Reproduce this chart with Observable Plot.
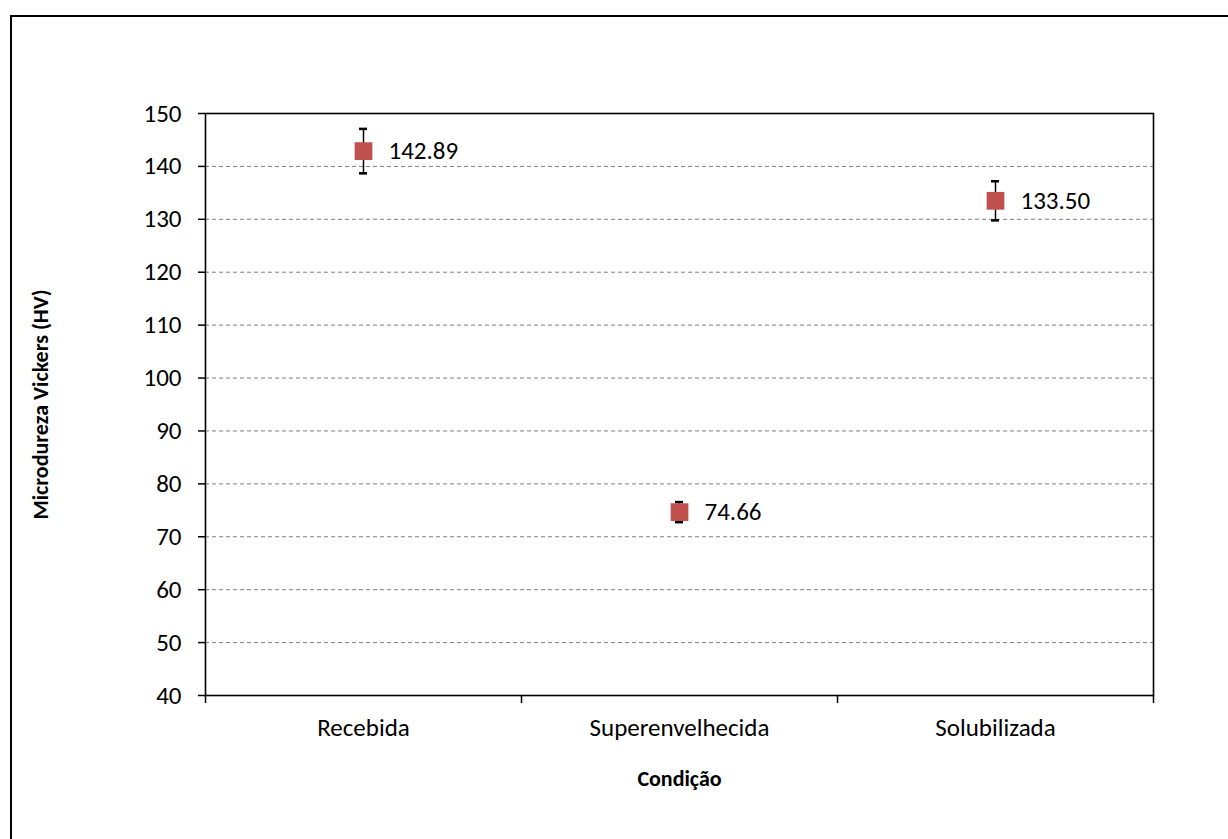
<!DOCTYPE html>
<html>
<head>
<meta charset="utf-8">
<script src="https://cdn.jsdelivr.net/npm/d3@7"></script>
<script src="https://cdn.jsdelivr.net/npm/@observablehq/plot@0.6"></script>
<style>
  html, body { margin: 0; padding: 0; background: #fff; overflow: hidden; width: 1228px; height: 839px; }
  #border { position: absolute; left: 10px; top: 15px; width: 1400px; height: 1000px; border-left: 2px solid #000; border-top: 2px solid #000; z-index: 0; }
  #chart { position: absolute; left: 0; top: 0; z-index: 1; }
</style>
</head>
<body>
<div id="border"></div>
<div id="chart"></div>
<script>
const categories = ["Recebida", "Superenvelhecida", "Solubilizada"];
const means = [142.89, 74.66, 133.50];
const errors = [4.2, 1.9, 3.7];
const yTicks = [40, 50, 60, 70, 80, 90, 100, 110, 120, 130, 140, 150];
const gridTicks = [50, 60, 70, 80, 90, 100, 110, 120, 130, 140];
const yTitle = "Microdureza Vickers (HV)";
const xTitle = "Condição";

const data = categories.map((c, i) => ({
  cat: c,
  x: i + 0.5,
  mean: means[i],
  lo: means[i] - errors[i],
  hi: means[i] + errors[i],
  label: means[i].toFixed(2)
}));
const boundaries = d3.range(categories.length + 1);
const centers = categories.map((c, i) => i + 0.5);
const capHalf = 0.0127;

const font = "Carlito, Calibri, Lato, 'Open Sans', sans-serif";
const fs = 25;

const chart = Plot.plot({
  width: 1228,
  height: 839,
  marginLeft: 205,
  marginRight: 75,
  marginTop: 113,
  marginBottom: 144,
  style: { fontFamily: font, fontSize: fs + "px", color: "#000", background: "transparent" },
  x: { type: "linear", domain: [0, categories.length] },
  y: { domain: [40, 150] },
  marks: [
    Plot.gridY(gridTicks, { stroke: "#7f7f7f", strokeOpacity: 1, strokeWidth: 1, strokeDasharray: "4,3" }),
    Plot.frame({ stroke: "#000", strokeWidth: 1.6 }),
    Plot.axisY({ ticks: yTicks, tickSize: 7, tickPadding: 17, label: null, fontSize: fs, strokeWidth: 1.5 }),
    Plot.axisX({ ticks: boundaries, tickSize: 8, tickFormat: () => "", label: null, strokeWidth: 1.5 }),
    Plot.axisX({ ticks: centers, tickSize: 0, tickPadding: 23, tickFormat: (d) => categories[Math.floor(d)], label: null, fontSize: fs }),
    Plot.ruleX(data, { x: "x", y1: "lo", y2: "hi", stroke: "#000", strokeWidth: 1.5 }),
    Plot.ruleY(data, { y: "hi", x1: (d) => d.x - capHalf, x2: (d) => d.x + capHalf, stroke: "#000", strokeWidth: 2.5 }),
    Plot.ruleY(data, { y: "lo", x1: (d) => d.x - capHalf, x2: (d) => d.x + capHalf, stroke: "#000", strokeWidth: 2.5 }),
    Plot.dot(data, { x: "x", y: "mean", symbol: "square", r: 10, fill: "#C0504D", stroke: "none" }),
    Plot.text(data, { x: "x", y: "mean", text: "label", textAnchor: "start", dx: 25, fontSize: fs, fill: "#000" }),
    Plot.text([yTitle], { frameAnchor: "left", textAnchor: "middle", rotate: -90, dx: -165, fontWeight: "bold", fontSize: 22, fill: "#000" }),
    Plot.text([xTitle], { frameAnchor: "bottom", textAnchor: "middle", dy: 90, fontWeight: "bold", fontSize: 22, fill: "#000" })
  ]
});
document.getElementById("chart").appendChild(chart);
</script>
</body>
</html>
